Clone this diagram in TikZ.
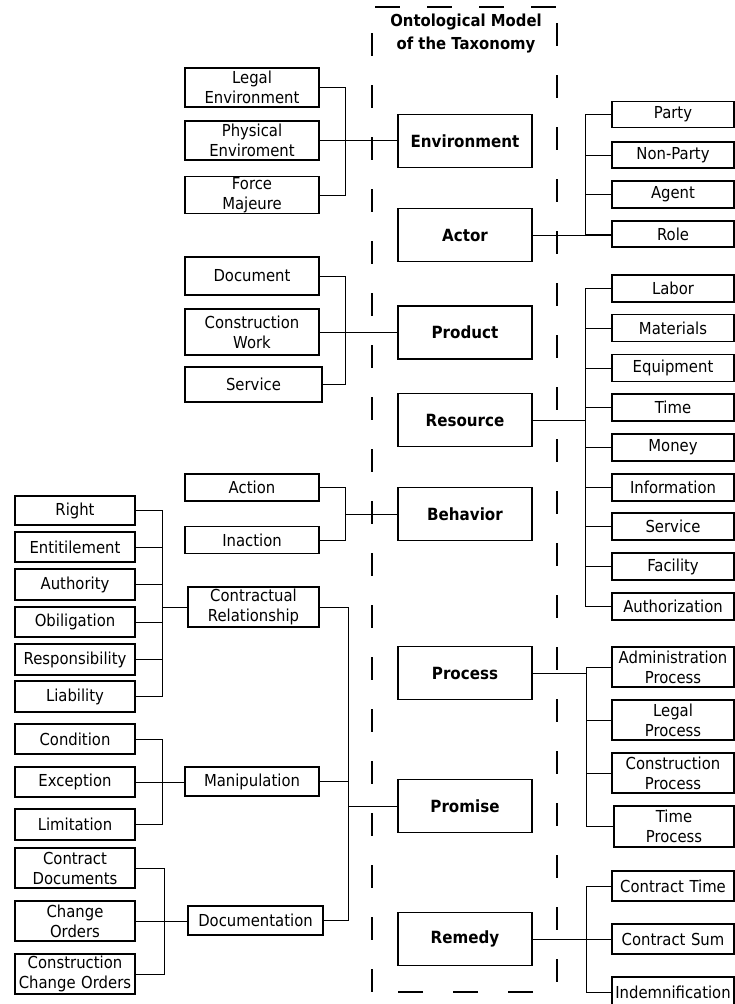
\documentclass[tikz,border=0pt]{standalone}
\usepackage{fontspec}
\setmainfont{DejaVu Sans}[FakeStretch=0.9]
\begin{document}
\begin{tikzpicture}[x=1pt,y=-1pt,
  sbox/.style={draw, line width=1.1pt, inner sep=0pt, align=center, font=\fontsize{16.5}{20}\selectfont},
  colA/.style={sbox, text width=134pt},
  colB/.style={sbox, text width=120pt},
  colR/.style={sbox, text width=122pt},
  cbox/.style={draw, line width=1.8pt, inner sep=0pt, align=center, font=\fontsize{16.8}{19}\selectfont\bfseries, text width=134pt, minimum height=53pt},
  conn/.style={line width=0.9pt},
  frame/.style={line width=2pt, dash pattern=on 23pt off 29pt}]
\useasboundingbox (0,0) rectangle (735,1004);
\fill[white] (0,0) rectangle (735,1004);

% title and frame
\node[align=center, inner sep=0pt, font=\fontsize{16.5}{23}\selectfont\bfseries] (title) at (466,33.5) {Ontological Model\\of the Taxonomy};
\draw[frame] (372,33) -- (372,992);
\draw[frame] (557,23) -- (557,990);
\draw[frame, dash pattern=on 25pt off 27pt] (375,7) -- (560,7);
\draw[frame, dash pattern=on 25pt off 30pt] (533,992) -- (372,992);

% center boxes
\node[cbox] (env) at (465,141) {Environment};
\node[cbox] (actor) at (465,235) {Actor};
\node[cbox] (product) at (465,332.5) {Product};
\node[cbox] (resource) at (465,420) {Resource};
\node[cbox] (behavior) at (465,514) {Behavior};
\node[cbox] (process) at (465,673) {Process};
\node[cbox] (promise) at (465,806) {Promise};
\node[cbox] (remedy) at (465,939) {Remedy};

% left column A
\node[colA, minimum height=39pt] (legalenv) at (252,87.5) {Legal\\Environment};
\node[colA, minimum height=39pt] (physenv) at (252,140.5) {Physical\\Enviroment};
\node[colA, minimum height=37pt] (force) at (252,195) {Force\\Majeure};
\node[colA, minimum height=38pt] (document) at (252,276) {Document};
\node[colA, minimum height=46pt] (conswork) at (252,332) {Construction\\Work};
\node[sbox, text width=137pt, minimum height=35pt] (service1) at (253.5,384.5) {Service};
\node[colA, minimum height=27pt] (action) at (252,487.5) {Action};
\node[colA, minimum height=27pt] (inaction) at (252,540) {Inaction};
\node[sbox, text width=131pt, minimum height=40pt] (contrel) at (253.5,607) {Contractual\\Relationship};
\node[colA, minimum height=29pt] (manip) at (252,781.5) {Manipulation};
\node[sbox, text width=135pt, minimum height=29pt] (docu) at (255.5,920.5) {Documentation};

% left column B
\node[colB, minimum height=29pt] (right) at (75,510.5) {Right};
\node[colB, minimum height=30pt] (entitle) at (75,547) {Entitilement};
\node[colB, minimum height=31pt] (authority) at (75,584.5) {Authority};
\node[colB, minimum height=30pt] (obligation) at (75,622) {Obiligation};
\node[colB, minimum height=31pt] (respons) at (75,659.5) {Responsibility};
\node[colB, minimum height=31pt] (liability) at (75,696.5) {Liability};
\node[colB, minimum height=30pt] (condition) at (75,739) {Condition};
\node[colB, minimum height=30pt] (exception) at (75,782) {Exception};
\node[colB, minimum height=31pt] (limitation) at (75,824.5) {Limitation};
\node[colB, minimum height=40pt] (contractdocs) at (75,868) {Contract\\Documents};
\node[colB, minimum height=40pt] (changeorders) at (75,921) {Change\\Orders};
\node[colB, minimum height=40pt] (ccorders) at (75,974) {Construction\\Change Orders};

% right column
\node[colR, minimum height=26pt] (party) at (673,114.5) {Party};
\node[colR, minimum height=26pt] (nonparty) at (673,155) {Non-Party};
\node[colR, minimum height=27pt] (agent) at (673,194.5) {Agent};
\node[colR, minimum height=26pt] (role) at (673,234) {Role};
\node[colR, minimum height=27pt] (labor) at (673,288.5) {Labor};
\node[colR, minimum height=27pt] (materials) at (673,328) {Materials};
\node[colR, minimum height=27pt] (equipment) at (673,368) {Equipment};
\node[colR, minimum height=27pt] (time) at (673,407.5) {Time};
\node[colR, minimum height=27pt] (money) at (673,447.5) {Money};
\node[colR, minimum height=27pt] (information) at (673,487.5) {Information};
\node[colR, minimum height=27pt] (service2) at (673,526.5) {Service};
\node[colR, minimum height=27pt] (facility) at (673,566.5) {Facility};
\node[colR, minimum height=27pt] (authorization) at (673,606.5) {Authorization};
\node[colR, minimum height=40pt] (admin) at (673,667) {Administration\\Process};
\node[colR, minimum height=40pt] (legalproc) at (673,720) {Legal\\Process};
\node[colR, minimum height=40pt] (consproc) at (673,773) {Construction\\Process};
\node[sbox, text width=120pt, minimum height=41pt] (timeproc) at (674,826.5) {Time\\Process};
\node[colR, minimum height=30pt] (ctime) at (673,886) {Contract Time};
\node[colR, minimum height=30pt] (csum) at (673,939) {Contract Sum};
\node[colR, minimum height=30pt] (indem) at (673,992) {Indemnification};

% connectors: environment
\coordinate (bE) at (345,141);
\draw[conn] (legalenv.east) -| (bE |- force.east) -- (force.east);
\draw[conn] (physenv.east) -- (physenv.east -| env.west);

% actor
\coordinate (bA) at (585,235);
\draw[conn] (party.west) -| (bA |- role.west) -- (role.west);
\foreach \n in {nonparty,agent} \draw[conn] (\n.west) -- (\n.west -| bA);
\draw[conn] (actor.east) -- (actor.east -| role.west);

% product
\coordinate (bP) at (345,332);
\draw[conn] (document.east) -| (bP |- service1.east) -- (service1.east);
\draw[conn] (conswork.east) -- (conswork.east -| product.west);

% resource
\coordinate (bR) at (585,420);
\draw[conn] (labor.west) -| (bR |- authorization.west) -- (authorization.west);
\foreach \n in {materials,equipment,time,money,information,service2,facility} \draw[conn] (\n.west) -- (\n.west -| bR);
\draw[conn] (resource.east) -- (resource.east -| bR);

% behavior
\coordinate (bB) at (345,514);
\draw[conn] (action.east) -| (bB |- inaction.east) -- (inaction.east);
\draw[conn] (bB) -- (behavior.west);

% contractual relationship
\coordinate (bC) at (162,607);
\draw[conn] (right.east) -| (bC |- liability.east) -- (liability.east);
\foreach \n in {entitle,authority,obligation,respons} \draw[conn] (\n.east) -- (\n.east -| bC);
\draw[conn] (bC) -- (contrel.west);

% manipulation
\coordinate (bM) at (162,782);
\draw[conn] (condition.east) -| (bM |- limitation.east) -- (limitation.east);
\draw[conn] (exception.east) -- (exception.east -| manip.west);

% documentation
\coordinate (bD) at (164,921);
\draw[conn] (contractdocs.east) -| (bD |- ccorders.east) -- (ccorders.east);
\draw[conn] (changeorders.east) -- (changeorders.east -| docu.west);

% promise
\coordinate (bPr) at (348,806);
\draw[conn] (contrel.east) -| (bPr |- docu.east) -- (docu.east);
\draw[conn] (manip.east) -- (manip.east -| bPr);
\draw[conn] (bPr) -- (promise.west);

% process
\coordinate (bPc) at (586,673);
\draw[conn] (admin.west) -| (bPc |- timeproc.west) -- (timeproc.west);
\foreach \n in {legalproc,consproc} \draw[conn] (\n.west) -- (\n.west -| bPc);
\draw[conn] (process.east) -- (bPc);

% remedy
\coordinate (bRm) at (586,939);
\draw[conn] (ctime.west) -| (bRm |- indem.west) -- (indem.west);
\draw[conn] (remedy.east) -- (remedy.east -| csum.west);
\end{tikzpicture}
\end{document}
